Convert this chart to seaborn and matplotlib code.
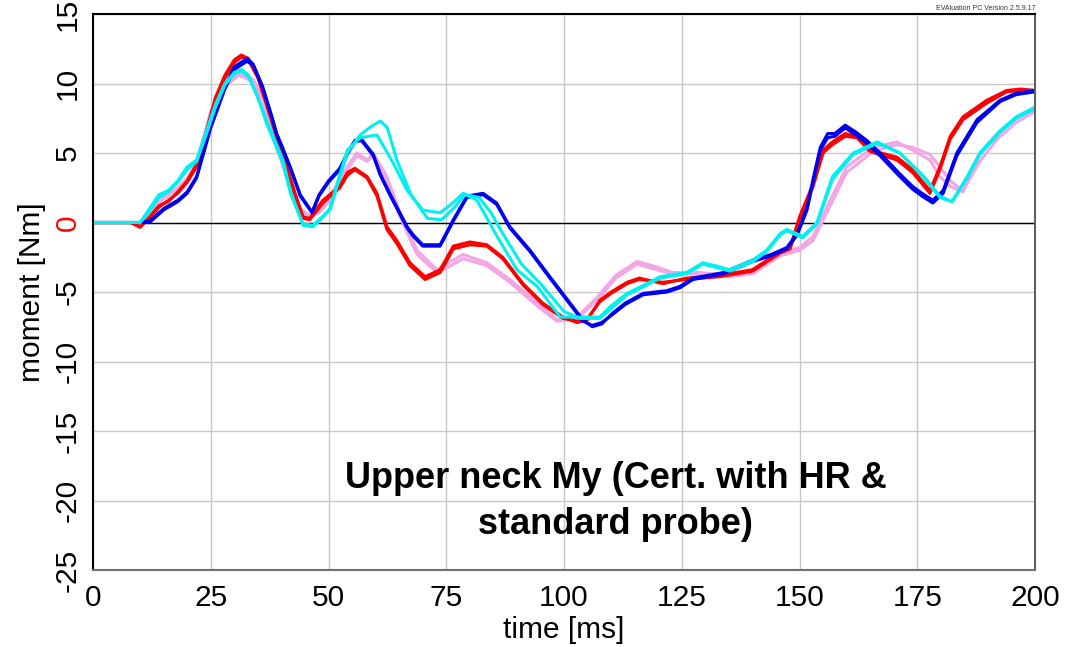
import matplotlib
matplotlib.use("Agg")
import matplotlib.pyplot as plt
import seaborn as sns
import pandas as pd

# ---------------- data ----------------
red1_t = [0, 8, 10, 12, 14, 16, 18, 20, 22, 24, 26, 28, 30, 31.5, 33, 35, 37, 39, 41, 43, 44.6, 46, 48.8, 52.4, 54, 55.6, 58.2, 60.3, 62.4, 64.5, 67.3, 70.5, 73.7, 76.5, 80, 83.6, 87, 91.3, 95.5, 99.8, 102.8, 105, 107.6, 110, 113.4, 116, 121, 126, 133, 140, 145.9, 148, 150, 152.9, 155, 157, 159.7, 162.2, 165, 170.7, 174, 177.7, 179.8, 182, 184.7, 189.8, 194, 197, 200]
red1_y = [0, 0, -0.35, 0.4, 1.2, 1.5, 2.2, 3.0, 4.2, 6.5, 9.0, 10.6, 11.7, 12.05, 11.8, 10.5, 8.5, 6.3, 4.2, 2.0, 0.4, 0.3, 1.6, 2.6, 3.6, 3.9, 3.3, 2.1, -0.3, -1.3, -2.9, -3.9, -3.4, -1.7, -1.4, -1.6, -2.5, -4.4, -5.8, -6.8, -7.2, -7.0, -5.6, -5.0, -4.3, -4.0, -4.4, -4.0, -3.8, -3.4, -2.1, -1.8, 0.4, 2.8, 5.2, 5.8, 6.4, 6.2, 5.2, 4.7, 3.8, 2.3, 4.0, 6.2, 7.6, 8.8, 9.5, 9.6, 9.5]
red2_y = [0, 0, -0.3, 0.3, 1.1, 1.6, 2.1, 2.9, 4.0, 6.3, 8.8, 10.4, 11.5, 11.9, 11.7, 10.4, 8.3, 6.1, 4.0, 1.8, 0.3, 0.2, 1.4, 2.5, 3.4, 3.8, 3.2, 1.9, -0.5, -1.5, -3.1, -4.1, -3.6, -1.9, -1.6, -1.7, -2.6, -4.5, -5.9, -6.9, -7.1, -6.9, -5.7, -5.1, -4.4, -4.1, -4.3, -4.1, -3.9, -3.5, -2.2, -1.9, 0.2, 2.6, 5.0, 5.6, 6.2, 6.1, 5.1, 4.5, 3.6, 2.1, 3.8, 6.0, 7.4, 8.6, 9.4, 9.5, 9.5]

blue1_t = [0, 10, 12, 15, 18, 20, 22, 25, 28, 30, 32.7, 34, 36, 38, 39, 40, 42, 44, 46.5, 48, 50, 52.4, 54, 55.6, 57, 59.5, 61, 63, 65, 66.7, 68, 70, 73.7, 76.5, 79.4, 82.8, 85.7, 88.5, 92.8, 97, 101.3, 104, 106, 108, 110.4, 113, 116.8, 121.9, 124.6, 127.4, 133.8, 140.1, 144, 147.3, 149.5, 151.6, 153, 154.4, 156, 157.5, 159.7, 162, 164.3, 167.1, 171.3, 174, 176, 178.3, 180.5, 183.4, 187.7, 192.6, 196, 200]
blue1_y = [0, 0, 0.1, 1.0, 1.6, 2.2, 3.3, 7.0, 9.8, 11.2, 11.8, 11.4, 9.8, 7.6, 6.4, 5.6, 3.9, 2.0, 0.75, 2.0, 3.0, 3.9, 5.0, 5.9, 6.0, 4.9, 3.5, 2.1, 0.8, -0.3, -0.9, -1.6, -1.6, 0.2, 1.9, 2.1, 1.4, -0.3, -2.0, -3.9, -5.8, -7.0, -7.5, -7.3, -6.5, -5.8, -5.1, -4.9, -4.6, -4.0, -3.6, -2.7, -2.3, -1.8, -0.8, 1.1, 3.3, 5.4, 6.4, 6.4, 7.0, 6.5, 5.9, 5.0, 3.5, 2.6, 2.1, 1.6, 2.3, 5.0, 7.4, 8.8, 9.3, 9.5]
blue2_y = [0, 0, 0.0, 0.9, 1.5, 2.1, 3.2, 6.8, 9.6, 11.0, 11.6, 11.3, 9.7, 7.5, 6.3, 5.5, 3.8, 1.9, 0.7, 1.9, 2.9, 3.8, 4.9, 5.8, 5.9, 4.8, 3.4, 2.0, 0.7, -0.4, -1.0, -1.7, -1.7, 0.1, 1.8, 2.0, 1.3, -0.4, -2.1, -4.0, -5.9, -7.1, -7.4, -7.2, -6.6, -5.9, -5.2, -5.0, -4.7, -4.1, -3.7, -2.8, -2.4, -1.9, -0.9, 0.9, 3.1, 5.2, 6.1, 6.2, 6.8, 6.3, 5.7, 4.8, 3.3, 2.4, 1.9, 1.4, 2.1, 4.8, 7.2, 8.7, 9.2, 9.4]

cyan1_t = [0, 10, 12, 14, 16, 18, 20, 22, 24, 26, 28, 30, 31.6, 33, 35, 37, 38.5, 40.3, 42, 44.6, 46.7, 48, 50.3, 52, 54, 56.7, 60.3, 62, 63.7, 66.7, 70, 73.7, 76, 78.6, 81.5, 83.5, 85.8, 90, 94.3, 99.2, 103.4, 107.6, 110, 113.4, 117, 120.4, 126, 129.5, 132, 135.2, 140.1, 143, 145.9, 147.3, 150.7, 153.7, 157, 161.4, 166.5, 171.3, 176.2, 179.8, 182.4, 185.6, 188.3, 192.6, 196, 200]
cyan1_y = [0, 0, 1.0, 2.0, 2.3, 3.0, 4.0, 4.5, 6.5, 8.5, 10.0, 10.8, 11.0, 10.6, 9.0, 7.2, 6.0, 4.5, 2.2, -0.2, -0.3, 0.1, 1.0, 3.0, 5.2, 6.1, 6.3, 5.3, 4.3, 2.3, 0.9, 0.7, 1.3, 2.1, 1.6, 0.4, -1.0, -3.4, -4.6, -6.8, -6.8, -6.8, -6.0, -5.1, -4.5, -3.9, -3.6, -2.9, -3.1, -3.4, -2.7, -2.0, -0.8, -0.5, -1.0, 0.0, 3.3, 5.0, 5.8, 5.0, 3.3, 1.8, 1.5, 3.3, 5.0, 6.6, 7.6, 8.3]
cyan2_t = [0, 10, 12, 14, 16, 18, 20, 22, 24, 26, 28, 30, 31.6, 33, 35, 37, 38.5, 40.3, 42, 44.6, 46.7, 48, 50.3, 52, 54, 56.7, 59, 61, 62.5, 64.5, 67.5, 71, 74, 76.5, 79, 82, 84.5, 87, 91, 95, 100, 103.4, 107.6, 110, 113.4, 117, 120.4, 126, 129.5, 132, 135.2, 140.1, 143, 145.9, 147.3, 150.7, 153.7, 157, 161.4, 166.5, 171.3, 176.2, 179.8, 182.4, 185.6, 188.3, 192.6, 196, 200]
cyan2_y = [0, 0, 0.8, 1.8, 2.2, 2.9, 3.8, 4.4, 6.3, 8.3, 9.9, 10.7, 10.9, 10.5, 9.0, 7.0, 5.8, 4.3, 2.0, -0.1, -0.2, 0.2, 0.9, 2.8, 5.0, 6.3, 6.9, 7.3, 6.8, 4.5, 2.0, 0.3, 0.2, 1.0, 2.0, 1.8, 0.7, -0.8, -3.0, -4.4, -6.4, -6.9, -6.9, -6.2, -5.2, -4.6, -4.0, -3.7, -3.0, -3.2, -3.5, -2.8, -2.1, -0.9, -0.6, -1.1, -0.1, 3.1, 4.9, 5.7, 5.0, 3.4, 1.9, 1.5, 3.2, 4.9, 6.5, 7.5, 8.2]

pink1_t = [0, 10, 12, 15, 18, 20, 22, 25, 28, 31, 34, 36, 38, 40, 42, 44, 46, 48, 50.3, 53, 56, 58.2, 59.5, 62.4, 65.2, 68.8, 73, 75.5, 78.6, 83.6, 88.5, 94.3, 98.5, 102.8, 107, 111, 115.5, 119.7, 123, 128.9, 135, 140, 145.9, 150, 152.9, 155.8, 160, 165.6, 170.7, 174, 177.7, 179.8, 182, 184.7, 188.3, 192, 196, 199.6]
pink1_y = [0, 0, 0.8, 1.8, 2.5, 3.2, 4.3, 8.0, 10.0, 10.8, 10.3, 9.0, 6.5, 4.6, 2.5, 1.0, 0.5, 0.8, 1.8, 3.5, 5.0, 4.5, 5.0, 3.3, 0.7, -2.0, -3.4, -2.9, -2.3, -2.9, -4.1, -5.8, -7.0, -6.8, -5.4, -3.8, -2.8, -3.2, -3.6, -3.6, -3.8, -3.6, -2.2, -1.8, -1.0, 1.1, 4.0, 5.4, 5.8, 5.2, 4.5, 3.3, 2.6, 2.2, 5.0, 6.4, 7.5, 8.1]
pink2_y = [0, 0, 0.7, 1.7, 2.4, 3.1, 4.1, 7.8, 9.8, 10.6, 10.1, 8.8, 6.3, 4.4, 2.3, 0.8, 0.4, 0.7, 1.6, 3.3, 4.8, 4.4, 4.8, 3.1, 0.4, -2.3, -3.6, -3.2, -2.6, -3.1, -4.3, -6.0, -7.1, -6.9, -5.6, -4.0, -3.0, -3.4, -3.7, -3.7, -3.9, -3.7, -2.4, -2.0, -1.3, 0.7, 3.6, 5.1, 5.6, 5.4, 4.9, 4.0, 3.0, 2.3, 4.4, 6.0, 7.2, 7.9]

x_ticks = [0, 25, 50, 75, 100, 125, 150, 175, 200]
y_ticks = [-25, -20, -15, -10, -5, 0, 5, 10, 15]

series = [
    ("pink1", pink1_t, pink1_y, "#F2A6E4"),
    ("pink2", pink1_t, pink2_y, "#F2A6E4"),
    ("red1", red1_t, red1_y, "#FF0000"),
    ("red2", red1_t, red2_y, "#FF0000"),
    ("blue1", blue1_t, blue1_y, "#0000F0"),
    ("blue2", blue1_t, blue2_y, "#0000F0"),
    ("cyan1", cyan1_t, cyan1_y, "#00F0F0"),
    ("cyan2", cyan2_t, cyan2_y, "#00F0F0"),
]

# ---------------- plot ----------------
sns.set_style("white")
plt.rcParams["font.family"] = ["Liberation Sans", "DejaVu Sans"]
plt.rcParams["axes.unicode_minus"] = False
plt.rcParams["text.color"] = "black"
plt.rcParams["axes.labelcolor"] = "black"
plt.rcParams["xtick.color"] = "black"
plt.rcParams["ytick.color"] = "black"

fig = plt.figure(figsize=(10.68, 6.47), dpi=100)
ax = fig.add_axes([93 / 1068, 1 - 570 / 647, (1035 - 93) / 1068, (570 - 14) / 647])

ax.set_xlim(0, 200)
ax.set_ylim(-25, 15)
ax.set_xticks(x_ticks)
ax.set_yticks(y_ticks)
ax.grid(True, color="#C8C8C8", linewidth=1.0)
ax.set_axisbelow(True)
ax.axhline(0, color="black", linewidth=1.0, zorder=1.5)

for name, t, y, c in series:
    df = pd.DataFrame({"t": t, "y": y})
    sns.lineplot(data=df, x="t", y="y", ax=ax, color=c, linewidth=2.2,
                 sort=False, estimator=None, zorder=2)

ax.set_xlabel("time [ms]", fontsize=21.5, labelpad=3, color="black")
ax.set_ylabel("moment [Nm]", fontsize=21.5, labelpad=6, color="black")

ax.tick_params(axis="x", labelsize=21.5, length=4, width=1, color="#404040",
               labelcolor="black", pad=6)
ax.tick_params(axis="y", labelsize=21.5, length=4, width=1.2, color="black",
               labelcolor="black", pad=4)
for lab in ax.get_yticklabels():
    lab.set_rotation(90)
    lab.set_va("center")
zero_idx = y_ticks.index(0)
ax.get_yticklabels()[zero_idx].set_color("red")
ax.yaxis.get_major_ticks()[zero_idx].tick1line.set_color("red")

for side, col in [("left", "black"), ("top", "black"), ("bottom", "#707070"), ("right", "#606060")]:
    ax.spines[side].set_visible(True)
    ax.spines[side].set_color(col)
    ax.spines[side].set_linewidth(1.5)

ax.text(111, -20.1, "Upper neck My (Cert. with HR &\nstandard probe)",
        ha="center", va="center", fontsize=26, fontweight="bold",
        linespacing=1.4, color="black", zorder=5)

fig.text(1035 / 1068, 1 - 9 / 647, "EVAluation PC Version 2.5.9.17",
         ha="right", va="center", fontsize=5, color="#333333")

fig.savefig("out.png", dpi=100)
